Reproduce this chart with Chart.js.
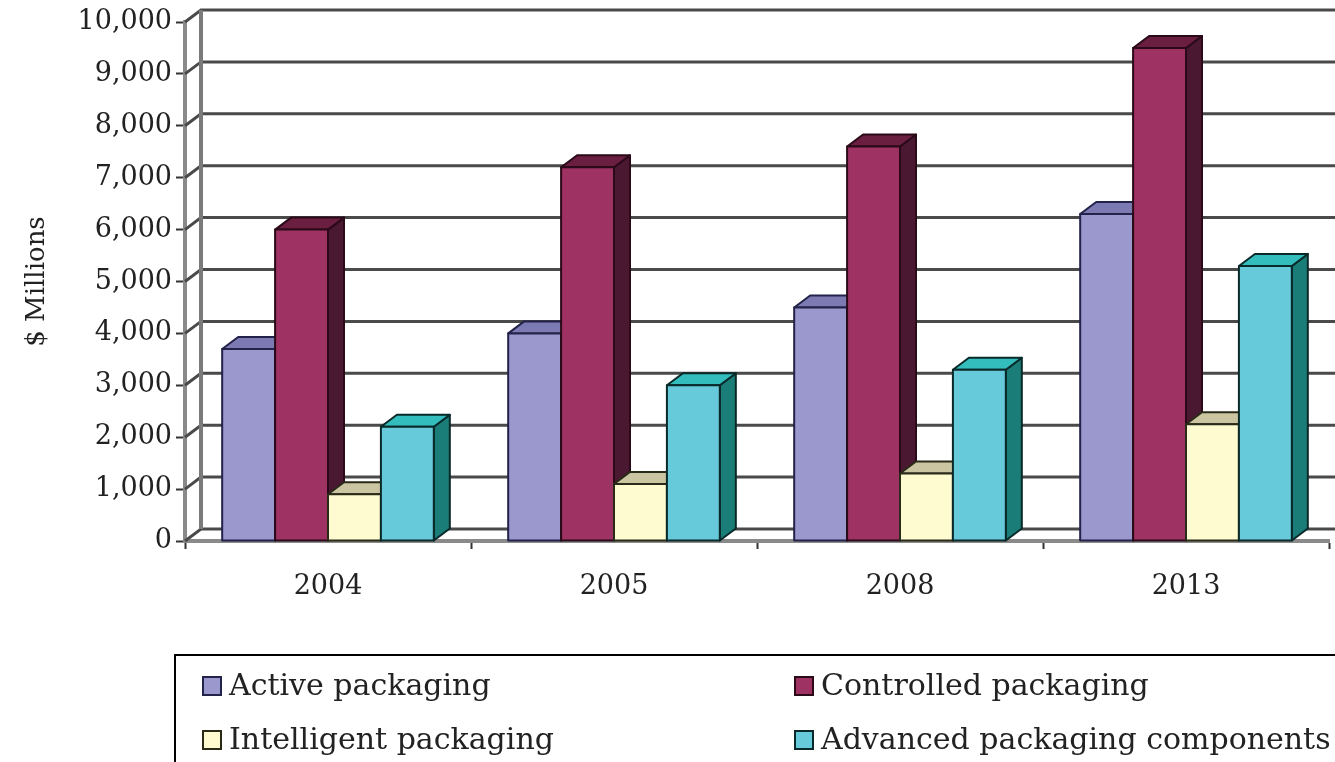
<!DOCTYPE html>
<html>
<head>
<meta charset="utf-8">
<script src="https://cdn.jsdelivr.net/npm/chart.js@4"></script>
<style>
  body { margin: 0; background: #ffffff; }
  #chart { display: block; }
</style>
</head>
<body>
<canvas id="chart" width="1335" height="762"></canvas>
<script>
// values ($ millions)
const years = ['2004', '2005', '2008', '2013'];
const activePackaging = [3700, 4000, 4500, 6300];
const controlledPackaging = [6000, 7200, 7600, 9500];
const intelligentPackaging = [900, 1100, 1300, 2250];
const advancedComponents = [2200, 3000, 3300, 5300];
const seriesNames = ['Active packaging', 'Controlled packaging', 'Intelligent packaging', 'Advanced packaging components'];

// face colours: front, top, side, outline
const faces = [
    { front: '#9a98cc', top: '#7c7ab2', side: '#5a5890', line: '#22224a' },
    { front: '#9e3262', top: '#6a1e40', side: '#4a1830', line: '#2a0a18' },
    { front: '#fffbd0', top: '#cbc5a2', side: '#a09a78', line: '#2a2a18' },
    { front: '#66cadb', top: '#33bdbd', side: '#1a7d78', line: '#0a2a2a' }
];

const depthX = 16;
const depthY = -12;
const serif = 'DejaVu Serif';

const backWall = {
    id: 'backWall',
    beforeDatasetsDraw(chart) {
        const { ctx, chartArea, scales } = chart;
        const y = scales.y;
        ctx.save();
        // grid lines on the back wall, with the slanted bit on the left wall
        y.ticks.forEach(t => {
            const py = y.getPixelForValue(t.value);
            ctx.strokeStyle = '#4a4a4a';
            ctx.lineWidth = 3;
            ctx.beginPath();
            ctx.moveTo(chartArea.left, py);
            ctx.lineTo(chartArea.left + depthX, py + depthY);
            ctx.lineTo(chart.width, py + depthY);
            ctx.stroke();
        });
        ctx.strokeStyle = '#7a7a7a';
        ctx.lineWidth = 4;
        ctx.beginPath();
        ctx.moveTo(chartArea.left + depthX, y.getPixelForValue(10000) + depthY);
        ctx.lineTo(chartArea.left + depthX, y.getPixelForValue(0) + depthY);
        ctx.stroke();
        ctx.restore();
    },
    afterDatasetsDraw(chart) {
        const { ctx } = chart;
        ctx.save();
        ctx.lineWidth = 2;
        ctx.lineJoin = 'round';
        chart.data.datasets.forEach((ds, i) => {
            const f = faces[i];
            chart.getDatasetMeta(i).data.forEach(bar => {
                const l = bar.x - bar.width / 2;
                const r = bar.x + bar.width / 2;
                const t = bar.y;
                const b = bar.base;
                ctx.strokeStyle = f.line;
                // side
                ctx.fillStyle = f.side;
                ctx.beginPath();
                ctx.moveTo(r, t);
                ctx.lineTo(r + depthX, t + depthY);
                ctx.lineTo(r + depthX, b + depthY);
                ctx.lineTo(r, b);
                ctx.closePath();
                ctx.fill();
                ctx.stroke();
                // top
                ctx.fillStyle = f.top;
                ctx.beginPath();
                ctx.moveTo(l, t);
                ctx.lineTo(l + depthX, t + depthY);
                ctx.lineTo(r + depthX, t + depthY);
                ctx.lineTo(r, t);
                ctx.closePath();
                ctx.fill();
                ctx.stroke();
                // front
                ctx.fillStyle = f.front;
                ctx.fillRect(l, t, r - l, b - t);
                ctx.strokeRect(l, t, r - l, b - t);
            });
        });
        ctx.restore();
    },
    afterDraw(chart) {
        // legend box under the plot
        const { ctx } = chart;
        ctx.save();
        ctx.strokeStyle = '#000';
        ctx.lineWidth = 2;
        ctx.beginPath();
        ctx.moveTo(chart.width, 655);
        ctx.lineTo(175, 655);
        ctx.lineTo(175, chart.height);
        ctx.stroke();
        const cols = [203, 795];
        const rows = [686, 740];
        ctx.font = '30px "' + serif + '"';
        ctx.textBaseline = 'middle';
        seriesNames.forEach((name, i) => {
            const x = cols[i % 2];
            const yy = rows[Math.floor(i / 2)];
            ctx.fillStyle = faces[i].front;
            ctx.fillRect(x, yy - 9, 18, 18);
            ctx.strokeStyle = faces[i].line;
            ctx.lineWidth = 2;
            ctx.strokeRect(x, yy - 9, 18, 18);
            ctx.fillStyle = '#222';
            ctx.fillText(name, x + 26, yy + 1);
        });
        ctx.restore();
    }
};

const seriesValues = [activePackaging, controlledPackaging, intelligentPackaging, advancedComponents];

new Chart(document.getElementById('chart'), {
    type: 'bar',
    data: {
        labels: years,
        datasets: seriesValues.map((vals, i) => ({
            label: seriesNames[i],
            data: vals,
            backgroundColor: 'rgba(0,0,0,0)',
            borderWidth: 0,
            categoryPercentage: 0.74,
            barPercentage: 1.0
        }))
    },
    options: {
        responsive: false,
        animation: false,
        layout: { padding: { top: 22, right: 6, left: 0, bottom: 0 } },
        plugins: {
            legend: { display: false },
            tooltip: { enabled: false }
        },
        scales: {
            x: {
                afterFit: s => { s.height = 221; },
                grid: {
                    offset: true,
                    drawOnChartArea: false,
                    tickLength: 8,
                    tickColor: '#333',
                    tickWidth: 2
                },
                border: { color: '#8a8a8a', width: 4 },
                ticks: {
                    padding: 22,
                    color: '#222',
                    font: { family: serif, size: 27 }
                }
            },
            y: {
                min: 0,
                max: 10000,
                afterFit: s => { s.width = 185; },
                grid: {
                    drawOnChartArea: false,
                    tickLength: 9,
                    tickColor: '#333',
                    tickWidth: 2
                },
                border: { color: '#8a8a8a', width: 4 },
                ticks: {
                    stepSize: 1000,
                    padding: 4,
                    color: '#222',
                    font: { family: serif, size: 27 },
                    callback: v => v.toLocaleString('en-US')
                },
                title: {
                    display: true,
                    text: '$ Millions',
                    color: '#222',
                    padding: { top: 22, bottom: 0 },
                    font: { family: serif, size: 26 }
                }
            }
        }
    },
    plugins: [backWall]
});
</script>
</body>
</html>
